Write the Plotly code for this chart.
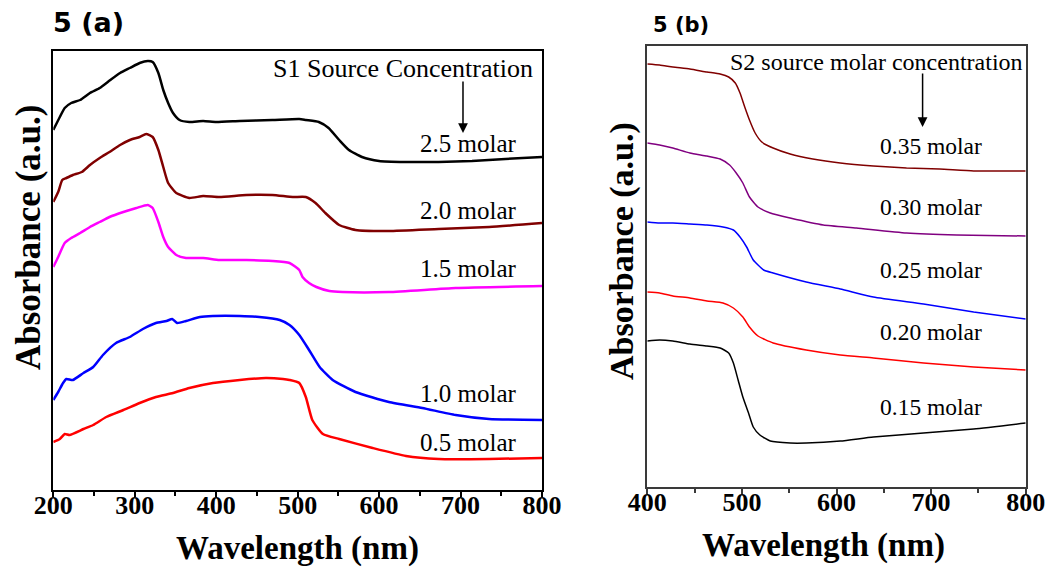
import plotly.graph_objects as go

# ---------- Panel (a): S1 source concentration series ----------
wl_a_25 = [200, 208, 214, 222, 233, 245, 257, 270, 282, 294, 306, 316, 322, 329, 335, 341, 347, 355, 367,
           384, 400, 429, 469, 502, 510, 526, 538, 551, 563, 579, 600, 632, 673, 714, 755, 800]
ab_a_25 = [3.60, 3.73, 3.82, 3.87, 3.90, 3.97, 4.02, 4.10, 4.17, 4.22, 4.27, 4.29, 4.28, 4.17, 4.00, 3.87, 3.77, 3.70, 3.68,
           3.69, 3.68, 3.69, 3.70, 3.71, 3.70, 3.68, 3.62, 3.50, 3.40, 3.33, 3.29, 3.28, 3.28, 3.29, 3.31, 3.33]

wl_a_20 = [200, 206, 211, 216, 224, 235, 245, 257, 269, 282, 294, 306, 314, 322, 329, 335, 341, 351, 367,
           384, 404, 437, 469, 494, 510, 522, 534, 551, 571, 612, 673, 735, 800]
ab_a_20 = [2.88, 2.98, 3.10, 3.12, 3.15, 3.18, 3.25, 3.32, 3.38, 3.45, 3.50, 3.53, 3.56, 3.53, 3.40, 3.23, 3.07, 2.97, 2.92,
           2.94, 2.93, 2.95, 2.95, 2.93, 2.93, 2.87, 2.77, 2.65, 2.60, 2.59, 2.61, 2.63, 2.67]

wl_a_15 = [200, 206, 214, 222, 233, 245, 257, 269, 286, 302, 316, 322, 329, 335, 341, 351, 363, 384, 404,
           437, 469, 490, 502, 506, 514, 523, 539, 555, 612, 694, 800]
ab_a_15 = [2.23, 2.33, 2.47, 2.52, 2.57, 2.63, 2.68, 2.73, 2.78, 2.82, 2.85, 2.82, 2.68, 2.53, 2.43, 2.35, 2.32, 2.32, 2.30,
           2.30, 2.29, 2.27, 2.20, 2.13, 2.07, 2.03, 1.99, 1.98, 1.98, 2.02, 2.04]

wl_a_10 = [200, 206, 212, 216, 224, 237, 249, 261, 277, 294, 310, 326, 339, 346, 352, 363, 380, 396, 429,
           453, 478, 490, 502, 514, 527, 543, 571, 612, 653, 694, 735, 800]
ab_a_10 = [0.90, 0.98, 1.07, 1.11, 1.10, 1.17, 1.23, 1.35, 1.47, 1.53, 1.61, 1.67, 1.69, 1.71, 1.67, 1.69, 1.73, 1.74, 1.74,
           1.73, 1.70, 1.65, 1.55, 1.40, 1.23, 1.10, 0.98, 0.88, 0.82, 0.75, 0.71, 0.70]

wl_a_05 = [200, 208, 214, 220, 237, 249, 265, 286, 306, 326, 347, 367, 396, 429, 461, 482, 490, 502, 510,
           518, 531, 551, 592, 633, 673, 735, 800]
ab_a_05 = [0.48, 0.51, 0.56, 0.55, 0.61, 0.65, 0.73, 0.80, 0.87, 0.93, 0.97, 1.02, 1.07, 1.10, 1.12, 1.11, 1.10, 1.07, 0.93,
           0.70, 0.56, 0.51, 0.42, 0.34, 0.31, 0.31, 0.32]

# ---------- Panel (b): S2 source molar concentration series ----------
wl_b_35 = [400, 413, 427, 445, 463, 477, 486, 493, 498, 503, 508, 514, 521, 533, 551, 575, 604, 639, 674, 709, 745, 800]
ab_b_35 = [4.23, 4.22, 4.20, 4.18, 4.15, 4.13, 4.10, 4.04, 3.94, 3.80, 3.67, 3.54, 3.45, 3.39, 3.33, 3.28, 3.24, 3.21,
           3.19, 3.18, 3.16, 3.16]

wl_b_30 = [400, 413, 427, 445, 463, 477, 487, 494, 501, 508, 517, 530, 551, 586, 621, 674, 727, 800]
ab_b_30 = [3.44, 3.42, 3.39, 3.34, 3.31, 3.28, 3.22, 3.14, 3.04, 2.90, 2.80, 2.74, 2.69, 2.62, 2.59, 2.54, 2.52, 2.51]

wl_b_25 = [400, 413, 427, 445, 463, 480, 491, 498, 505, 512, 523, 533, 568, 604, 639, 692, 745, 800]
ab_b_25 = [2.65, 2.64, 2.64, 2.63, 2.62, 2.60, 2.57, 2.50, 2.40, 2.27, 2.17, 2.14, 2.05, 1.98, 1.90, 1.83, 1.75, 1.68]

wl_b_20 = [400, 413, 427, 445, 463, 480, 491, 501, 508, 517, 533, 568, 604, 639, 692, 745, 800]
ab_b_20 = [1.95, 1.94, 1.91, 1.89, 1.86, 1.84, 1.79, 1.70, 1.60, 1.51, 1.44, 1.37, 1.32, 1.29, 1.24, 1.20, 1.17]

wl_b_15 = [400, 413, 427, 445, 463, 477, 486, 491, 496, 501, 507, 512, 519, 530, 551, 568, 604, 639, 692, 745, 800]
ab_b_15 = [1.46, 1.47, 1.46, 1.43, 1.41, 1.39, 1.34, 1.24, 1.07, 0.90, 0.74, 0.60, 0.52, 0.46, 0.44, 0.44, 0.46, 0.50,
           0.54, 0.58, 0.64]

x_ticks_a = [200, 300, 400, 500, 600, 700, 800]
x_ticks_b = [400, 500, 600, 700, 800]

series_a = [
    (wl_a_25, ab_a_25, "#000000", "2.5 molar"),
    (wl_a_20, ab_a_20, "#800000", "2.0 molar"),
    (wl_a_15, ab_a_15, "#FF00FF", "1.5 molar"),
    (wl_a_10, ab_a_10, "#0000FF", "1.0 molar"),
    (wl_a_05, ab_a_05, "#FF0000", "0.5 molar"),
]
series_b = [
    (wl_b_35, ab_b_35, "#800000", "0.35 molar"),
    (wl_b_30, ab_b_30, "#800080", "0.30 molar"),
    (wl_b_25, ab_b_25, "#0000FF", "0.25 molar"),
    (wl_b_20, ab_b_20, "#FF0000", "0.20 molar"),
    (wl_b_15, ab_b_15, "#000000", "0.15 molar"),
]

# label anchor positions (wavelength, absorbance) for the series names
label_pos_a = [(709, 3.47), (709, 2.80), (709, 2.22), (709, 0.97), (709, 0.48)]
label_pos_b = [(700, 3.41), (700, 2.80), (700, 2.17), (700, 1.55), (700, 0.80)]

fig = go.Figure()
for wl, ab, col, name in series_a:
    fig.add_trace(go.Scatter(x=wl, y=ab, mode="lines",
                             line=dict(color=col, width=2.5, shape="spline", smoothing=0.5),
                             name=name, xaxis="x", yaxis="y", showlegend=False))
for wl, ab, col, name in series_b:
    fig.add_trace(go.Scatter(x=wl, y=ab, mode="lines",
                             line=dict(color=col, width=1.5, shape="spline", smoothing=0.5),
                             name=name, xaxis="x2", yaxis="y2", showlegend=False))

serif = "Liberation Serif, Times New Roman, serif"
tickfont = dict(family=serif, size=26, color="black", weight="bold")

def xaxis_cfg(domain, rng, ticks, anchor, lw, lc):
    return dict(domain=domain, range=rng, tickvals=ticks, ticks="outside", ticklen=5, tickwidth=lw,
                tickcolor=lc, showline=True, linecolor=lc, linewidth=lw, mirror=True,
                showgrid=False, zeroline=False, tickfont=tickfont, anchor=anchor, automargin=False,
                ticklabelstandoff=-14,
                minor=dict(dtick=50, ticks="outside", ticklen=4, tickwidth=lw, tickcolor=lc))

def yaxis_cfg(domain, rng, anchor, lw, lc):
    return dict(domain=domain, range=rng, showticklabels=False, ticks="", showline=True,
                linecolor=lc, linewidth=lw, mirror=True, showgrid=False, zeroline=False,
                anchor=anchor, automargin=False)

def paper_text(px, py, text, size, family=serif, angle=0):
    return dict(x=px / 1052, y=1 - py / 573, xref="paper", yref="paper", text=text,
                xanchor="center", yanchor="middle", textangle=angle, showarrow=False,
                font=dict(family=family, size=size, color="black", weight="bold"))

annotations = []
for (lx, ly), (_, _, _, name) in zip(label_pos_a, series_a):
    annotations.append(dict(x=lx, y=ly, xref="x", yref="y", text=name, showarrow=False,
                            font=dict(family=serif, size=25, color="black")))
for (lx, ly), (_, _, _, name) in zip(label_pos_b, series_b):
    annotations.append(dict(x=lx, y=ly, xref="x2", yref="y2", text=name, showarrow=False,
                            font=dict(family=serif, size=23.5, color="black")))

annotations += [
    dict(x=629, y=4.22, xref="x", yref="y", text="S1 Source Concentration", showarrow=False,
         font=dict(family=serif, size=26, color="black")),
    dict(x=642, y=4.25, xref="x2", yref="y2", text="S2 source molar concentration", showarrow=False,
         font=dict(family=serif, size=24, color="black")),
    # downward arrows under the group headings
    dict(x=703, y=3.57, xref="x", yref="y", ax=0, ay=-53, showarrow=True, arrowhead=2,
         arrowsize=1.3, arrowwidth=1.5, arrowcolor="black", text=""),
    dict(x=691, y=3.60, xref="x2", yref="y2", ax=0, ay=-55, showarrow=True, arrowhead=2,
         arrowsize=1.3, arrowwidth=1.5, arrowcolor="black", text=""),
    # axis titles
    paper_text(297, 548, "Wavelength (nm)", 33),
    paper_text(823, 545, "Wavelength (nm)", 33),
    paper_text(28, 238, "Absorbance (a.u.)", 35, angle=-90),
    paper_text(622, 251, "Absorbance (a.u.)", 34, angle=-90),
    # panel tags
    paper_text(88, 23, "5 (a)", 27, family="DejaVu Sans"),
    paper_text(681, 25, "5 (b)", 21, family="DejaVu Sans"),
]

fig.update_layout(
    width=1052, height=573, margin=dict(l=0, r=0, t=0, b=0, autoexpand=False),
    paper_bgcolor="white", plot_bgcolor="white",
    xaxis=xaxis_cfg([53.3 / 1052, 542 / 1052], [200, 800], x_ticks_a, "y", 2, "black"),
    yaxis=yaxis_cfg([1 - 490 / 573, 1 - 51 / 573], [0, 4.39], "x", 2, "black"),
    xaxis2=xaxis_cfg([647.3 / 1052, 1025.7 / 1052], [400, 800], x_ticks_b, "y2", 1.5, "#3a3a3a"),
    yaxis2=yaxis_cfg([1 - 487 / 573, 1 - 46 / 573], [0, 4.41], "x2", 1.5, "#3a3a3a"),
    annotations=annotations,
)

fig.write_html("out.html")
